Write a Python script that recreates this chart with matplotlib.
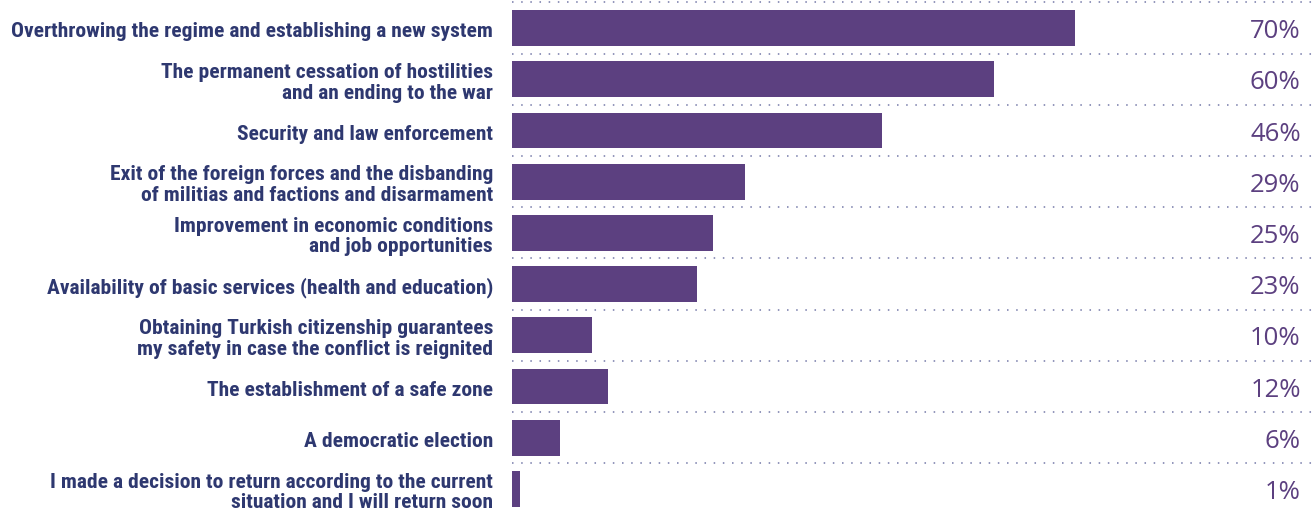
import matplotlib
matplotlib.use("Agg")
import matplotlib.pyplot as plt
from matplotlib import font_manager

labels = [
    "Overthrowing the regime and establishing a new system",
    "The permanent cessation of hostilities\nand an ending to the war",
    "Security and law enforcement",
    "Exit of the foreign forces and the disbanding\nof militias and factions and disarmament",
    "Improvement in economic conditions\nand job opportunities",
    "Availability of basic services (health and education)",
    "Obtaining Turkish citizenship guarantees\nmy safety in case the conflict is reignited",
    "The establishment of a safe zone",
    "A democratic election",
    "I made a decision to return according to the current\nsituation and I will return soon",
]
values = [70, 60, 46, 29, 25, 23, 10, 12, 6, 1]

bar_color = "#5c4080"
label_color = "#2e3870"
dot_color = "#7479a8"

# pick a narrow face for the category labels if one is around
fonts = font_manager.fontManager.ttflist
names = {f.name for f in fonts}
label_kw = dict(family="Roboto", fontweight="bold")
for cand in ["Roboto Condensed", "Liberation Sans Narrow", "Open Sans Condensed"]:
    if cand in names:
        label_kw = dict(family=cand, fontweight="bold")
        break
else:
    if any(f.name == "DejaVu Sans" and f.stretch == "condensed" for f in fonts):
        label_kw = dict(family="DejaVu Sans", fontweight="bold", fontstretch="condensed")

fig = plt.figure(figsize=(13.16, 5.14), dpi=100)
ax = fig.add_axes([512 / 1316, 0, 804 / 1316, 1])

ys = range(len(values))
ax.barh(ys, values, height=0.70, color=bar_color, zorder=2)

# dotted row separators
for i in range(len(values)):
    ax.axhline(i - 0.5, color=dot_color, lw=1.1, ls=(0, (1, 5)), zorder=1)

# size the labels so the longest line spans about 483 px
renderer = fig.canvas.get_renderer()
probe = fig.text(0, 0, labels[0], fontsize=14, **label_kw)
w = probe.get_window_extent(renderer).width
probe.remove()
label_size = min(16, 14 * 483 / w)

for y, lab, v in zip(ys, labels, values):
    ax.text(-0.0237, y + 0.07, lab, transform=ax.get_yaxis_transform(),
            ha="right", va="center", fontsize=label_size,
            color=label_color, linespacing=1.12, **label_kw)
    ax.text(0.981, y + 0.07, f"{v}%", transform=ax.get_yaxis_transform(),
            ha="right", va="center", fontsize=18.5, family="Open Sans",
            color=bar_color)

ax.set_xlim(0, 100)
ax.set_ylim(9.49, -0.547)
ax.axis("off")

fig.savefig("out.png", dpi=100)
